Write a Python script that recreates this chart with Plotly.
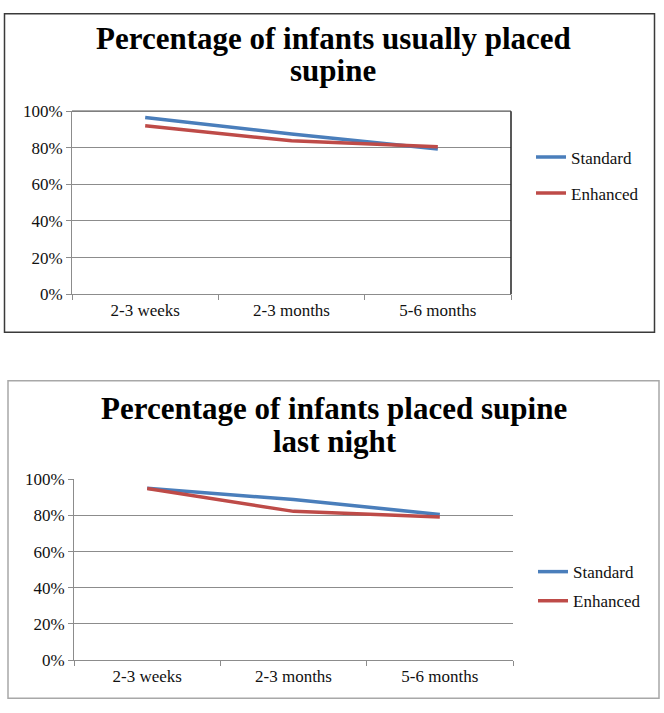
import plotly.graph_objects as go

categories = ["2-3 weeks", "2-3 months", "5-6 months"]

# Chart 1: usually placed supine
usual_standard = [0.966, 0.876, 0.793]
usual_enhanced = [0.921, 0.838, 0.806]

# Chart 2: placed supine last night
last_standard = [0.950, 0.887, 0.805]
last_enhanced = [0.948, 0.822, 0.791]

title_top_lines = ["Percentage of infants usually placed", "supine"]
title_bottom_lines = ["Percentage of infants placed supine", "last night"]
y_ticks = [0, 0.2, 0.4, 0.6, 0.8, 1.0]

BLUE = "#4A7EBB"
RED = "#BE4B48"
FONT = "Liberation Serif"
W, H = 664, 713


def px(x):
    return x / W


def py(y):
    return 1 - y / H


fig = go.Figure()

fig.add_trace(go.Scatter(x=categories, y=usual_standard, name="Standard", mode="lines",
                         line=dict(color=BLUE, width=3.5), xaxis="x", yaxis="y",
                         legend="legend", legendgroup="s1"))
fig.add_trace(go.Scatter(x=categories, y=usual_enhanced, name="Enhanced", mode="lines",
                         line=dict(color=RED, width=3.5), xaxis="x", yaxis="y",
                         legend="legend", legendgroup="e1"))
fig.add_trace(go.Scatter(x=categories, y=last_standard, name="Standard", mode="lines",
                         line=dict(color=BLUE, width=3.5), xaxis="x2", yaxis="y2",
                         legend="legend2", legendgroup="s2"))
fig.add_trace(go.Scatter(x=categories, y=last_enhanced, name="Enhanced", mode="lines",
                         line=dict(color=RED, width=3.5), xaxis="x2", yaxis="y2",
                         legend="legend2", legendgroup="e2"))

xaxis_common = dict(type="category", range=[-0.5, 2.5], tickson="boundaries",
                    ticks="outside", ticklen=5, tickcolor="#8c8c8c",
                    showline=True, linecolor="#8c8c8c", linewidth=1,
                    showgrid=False, zeroline=False,
                    tickfont=dict(family=FONT, size=17, color="#111"),
                    fixedrange=True)
yaxis_common = dict(range=[0, 1], tickvals=y_ticks, tickformat=".0%",
                    ticks="outside", ticklen=5, tickcolor="#8c8c8c",
                    showline=True, linecolor="#8c8c8c", linewidth=1,
                    showgrid=True, gridcolor="#8c8c8c", gridwidth=1,
                    zeroline=False,
                    tickfont=dict(family=FONT, size=17, color="#111"),
                    fixedrange=True)

legend_common = dict(font=dict(family=FONT, size=17, color="#111"),
                     bgcolor="rgba(0,0,0,0)", xanchor="left", yanchor="top",
                     itemwidth=30, traceorder="grouped")


def title_line(text, x, y):
    return dict(text="<b>" + text + "</b>", x=px(x), y=py(y), xref="paper", yref="paper",
                showarrow=False, xanchor="center", yanchor="middle",
                font=dict(family=FONT, size=31, color="#000"))


fig.update_layout(
    width=W, height=H,
    margin=dict(l=0, r=0, t=0, b=0),
    paper_bgcolor="white", plot_bgcolor="white",
    xaxis=dict(xaxis_common, domain=[px(72), px(511)], anchor="y"),
    yaxis=dict(yaxis_common, domain=[py(293), py(105)], anchor="x"),
    xaxis2=dict(xaxis_common, domain=[px(74), px(513)], anchor="y2"),
    yaxis2=dict(yaxis_common, domain=[py(669), py(483)], anchor="x2"),
    legend=dict(legend_common, x=px(531), y=py(134), tracegroupgap=11),
    legend2=dict(legend_common, x=px(533), y=py(560), tracegroupgap=4),
    showlegend=True,
    annotations=[
        title_line(title_top_lines[0], 333, 30),
        title_line(title_top_lines[1], 333, 63),
        title_line(title_bottom_lines[0], 334, 410),
        title_line(title_bottom_lines[1], 335, 444),
    ],
    shapes=[
        # outer frame of top chart
        dict(type="rect", xref="paper", yref="paper", x0=px(4.5), x1=px(654.5),
             y0=py(332), y1=py(5), line=dict(color="#3a3a3a", width=1.5)),
        # outer frame of bottom chart
        dict(type="rect", xref="paper", yref="paper", x0=px(8), x1=px(659),
             y0=py(708), y1=py(382), line=dict(color="#a8a8a8", width=1.5)),
        # plot-area border of top chart (top and right edges)
        dict(type="line", xref="x domain", yref="y domain", x0=0, x1=1, y0=1, y1=1,
             line=dict(color="#555555", width=1.2)),
        dict(type="line", xref="x domain", yref="y domain", x0=1, x1=1, y0=0, y1=1,
             line=dict(color="#222222", width=1.5)),
    ],
)

fig.write_html("out.html", config={"displayModeBar": False},
               post_script="document.body.style.margin='0';document.body.style.overflow='hidden';")
